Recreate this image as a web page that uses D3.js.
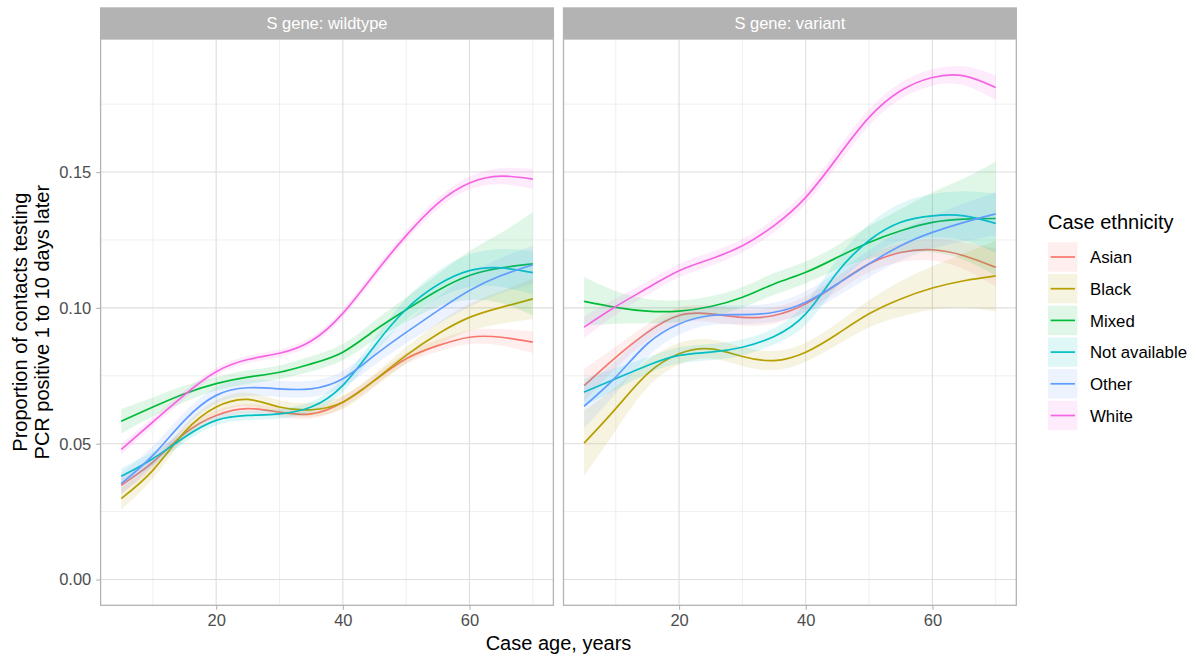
<!DOCTYPE html>
<html>
<head>
<meta charset="utf-8">
<title>Contacts testing positive by case age</title>
<script src="https://cdn.jsdelivr.net/npm/d3@7"></script>
<style>
  body { margin: 0; background: #fff; }
  text { font-family: "Liberation Sans", Arial, Helvetica, sans-serif; }
</style>
</head>
<body>
<svg id="chart" width="1196" height="661"></svg>
<script>
// DATA
var ethnicities = ["Asian", "Black", "Mixed", "Not available", "Other", "White"];
var colours = ["#F8766D", "#B79F00", "#00BA38", "#00BFC4", "#619CFF", "#F564E3"];
var ages = [5, 10, 15, 20, 25, 30, 35, 40, 45, 50, 55, 60, 65, 70];
var panels = ["S gene: wildtype", "S gene: variant"];

// fitted proportions, one row per ethnicity (same order as above)
var wildtypeFit = [
  [0.0347, 0.0432, 0.0537, 0.0604, 0.0629, 0.0616, 0.0610, 0.0653, 0.0733, 0.0813, 0.0861, 0.0892, 0.0892, 0.0874],
  [0.0298, 0.0402, 0.0543, 0.0635, 0.0663, 0.0635, 0.0625, 0.0653, 0.0733, 0.0825, 0.0904, 0.0965, 0.1002, 0.1033],
  [0.0583, 0.0635, 0.0684, 0.0721, 0.0745, 0.0763, 0.0794, 0.0837, 0.0917, 0.0993, 0.1064, 0.1119, 0.1147, 0.1162],
  [0.0380, 0.0445, 0.0524, 0.0586, 0.0604, 0.0610, 0.0635, 0.0715, 0.0860, 0.0995, 0.1085, 0.1137, 0.1147, 0.1130],
  [0.0353, 0.0457, 0.0586, 0.0678, 0.0706, 0.0702, 0.0702, 0.0739, 0.0825, 0.0910, 0.0990, 0.1064, 0.1119, 0.1159],
  [0.0479, 0.0580, 0.0680, 0.0765, 0.0810, 0.0833, 0.0878, 0.0980, 0.1125, 0.1266, 0.1385, 0.1460, 0.1485, 0.1474]
];
var variantFit = [
  [0.0714, 0.0818, 0.0910, 0.0972, 0.0978, 0.0965, 0.0972, 0.1015, 0.1088, 0.1162, 0.1204, 0.1214, 0.1192, 0.1149],
  [0.0502, 0.0629, 0.0757, 0.0831, 0.0849, 0.0821, 0.0806, 0.0837, 0.0904, 0.0978, 0.1033, 0.1073, 0.1100, 0.1118],
  [0.1024, 0.1002, 0.0988, 0.0988, 0.1005, 0.1039, 0.1088, 0.1131, 0.1186, 0.1241, 0.1284, 0.1315, 0.1327, 0.1329],
  [0.0690, 0.0739, 0.0788, 0.0825, 0.0837, 0.0855, 0.0895, 0.0978, 0.1131, 0.1248, 0.1315, 0.1339, 0.1339, 0.1311],
  [0.0638, 0.0745, 0.0868, 0.0941, 0.0972, 0.0975, 0.0984, 0.1021, 0.1088, 0.1162, 0.1229, 0.1278, 0.1315, 0.1346],
  [0.0929, 0.1005, 0.1073, 0.1137, 0.1180, 0.1229, 0.1303, 0.1407, 0.1554, 0.1701, 0.1799, 0.1848, 0.1854, 0.1811]
];

// half width of the confidence band
var wildtypeBand = [
  [0.0030, 0.0025, 0.0020, 0.0018, 0.0017, 0.0017, 0.0018, 0.0020, 0.0020, 0.0020, 0.0022, 0.0025, 0.0030, 0.0040],
  [0.0040, 0.0030, 0.0025, 0.0025, 0.0025, 0.0025, 0.0025, 0.0025, 0.0025, 0.0030, 0.0040, 0.0050, 0.0060, 0.0075],
  [0.0045, 0.0035, 0.0030, 0.0025, 0.0025, 0.0025, 0.0028, 0.0030, 0.0035, 0.0045, 0.0060, 0.0090, 0.0130, 0.0190],
  [0.0030, 0.0025, 0.0020, 0.0018, 0.0018, 0.0018, 0.0020, 0.0025, 0.0030, 0.0040, 0.0050, 0.0060, 0.0070, 0.0080],
  [0.0040, 0.0035, 0.0030, 0.0030, 0.0030, 0.0030, 0.0030, 0.0030, 0.0035, 0.0040, 0.0050, 0.0060, 0.0065, 0.0070],
  [0.0020, 0.0017, 0.0015, 0.0014, 0.0014, 0.0014, 0.0015, 0.0016, 0.0017, 0.0018, 0.0020, 0.0024, 0.0030, 0.0036]
];
var variantBand = [
  [0.0060, 0.0040, 0.0030, 0.0030, 0.0030, 0.0030, 0.0030, 0.0028, 0.0028, 0.0030, 0.0035, 0.0040, 0.0050, 0.0070],
  [0.0120, 0.0080, 0.0050, 0.0040, 0.0035, 0.0035, 0.0035, 0.0035, 0.0040, 0.0050, 0.0065, 0.0080, 0.0100, 0.0130],
  [0.0090, 0.0060, 0.0045, 0.0040, 0.0038, 0.0038, 0.0040, 0.0040, 0.0045, 0.0060, 0.0080, 0.0110, 0.0150, 0.0210],
  [0.0050, 0.0040, 0.0030, 0.0030, 0.0030, 0.0030, 0.0030, 0.0040, 0.0050, 0.0060, 0.0070, 0.0080, 0.0090, 0.0110],
  [0.0080, 0.0060, 0.0050, 0.0040, 0.0035, 0.0035, 0.0035, 0.0040, 0.0045, 0.0050, 0.0055, 0.0060, 0.0070, 0.0080],
  [0.0040, 0.0030, 0.0025, 0.0025, 0.0025, 0.0025, 0.0025, 0.0025, 0.0030, 0.0030, 0.0030, 0.0030, 0.0035, 0.0045]
];

var yTicks = [0, 0.05, 0.10, 0.15];
var yMinor = [0.025, 0.075, 0.125, 0.175];
var xTicks = [20, 40, 60];
var xMinor = [10, 30, 50, 70];

// LAYOUT
var svg = d3.select("#chart");
var panelTop = 39, panelBottom = 605.3;
var panelLeft = [100.6, 563.5], panelW = 452.8;

// ggplot style 5% expansion
var yLo = 0, yHi = 0.1895, yPad = (yHi - yLo) * 0.05;
var y = d3.scaleLinear().domain([yLo - yPad, yHi + yPad]).range([panelBottom, panelTop]);
var xPad = (70 - 5) * 0.05;

var fits = [wildtypeFit, variantFit];
var bands = [wildtypeBand, variantBand];

panels.forEach(function(title, p) {
  var x = d3.scaleLinear().domain([5 - xPad, 70 + xPad]).range([panelLeft[p], panelLeft[p] + panelW]);
  var g = svg.append("g");

  // grid
  g.selectAll(".ymin").data(yMinor).enter().append("line")
    .attr("x1", x.range()[0]).attr("x2", x.range()[1])
    .attr("y1", function(d) { return y(d); }).attr("y2", function(d) { return y(d); })
    .attr("stroke", "#e4e4e4").attr("stroke-width", 0.6);
  g.selectAll(".xmin").data(xMinor).enter().append("line")
    .attr("y1", panelTop).attr("y2", panelBottom)
    .attr("x1", function(d) { return x(d); }).attr("x2", function(d) { return x(d); })
    .attr("stroke", "#e4e4e4").attr("stroke-width", 0.6);
  g.selectAll(".ymaj").data(yTicks).enter().append("line")
    .attr("x1", x.range()[0]).attr("x2", x.range()[1])
    .attr("y1", function(d) { return y(d); }).attr("y2", function(d) { return y(d); })
    .attr("stroke", "#dedede").attr("stroke-width", 1.1);
  g.selectAll(".xmaj").data(xTicks).enter().append("line")
    .attr("y1", panelTop).attr("y2", panelBottom)
    .attr("x1", function(d) { return x(d); }).attr("x2", function(d) { return x(d); })
    .attr("stroke", "#dedede").attr("stroke-width", 1.1);

  // smooths: ribbon then line for each group
  var area = d3.area().curve(d3.curveNatural)
    .x(function(d) { return x(d.age); })
    .y0(function(d) { return y(d.v - d.se); })
    .y1(function(d) { return y(d.v + d.se); });
  var line = d3.line().curve(d3.curveNatural)
    .x(function(d) { return x(d.age); })
    .y(function(d) { return y(d.v); });

  ethnicities.forEach(function(eth, i) {
    var pts = ages.map(function(a, k) {
      return { age: a, v: fits[p][i][k], se: bands[p][i][k] };
    });
    g.append("path").datum(pts).attr("d", area)
      .attr("fill", colours[i]).attr("fill-opacity", 0.12);
    g.append("path").datum(pts).attr("d", line)
      .attr("fill", "none").attr("stroke", colours[i]).attr("stroke-width", 1.7);
  });

  // border
  g.append("rect").attr("x", x.range()[0]).attr("y", panelTop)
    .attr("width", panelW).attr("height", panelBottom - panelTop)
    .attr("fill", "none").attr("stroke", "#b3b3b3").attr("stroke-width", 1.3);

  // strip
  g.append("rect").attr("x", x.range()[0] - 0.65).attr("y", 7.3)
    .attr("width", panelW + 1.3).attr("height", panelTop - 7.3)
    .attr("fill", "#b3b3b3");
  g.append("text").attr("x", x.range()[0] + panelW / 2).attr("y", 28.8)
    .attr("text-anchor", "middle").attr("fill", "#ffffff")
    .attr("font-size", "16.5px").text(title);

  // x axis
  var xAxis = d3.axisBottom(x).tickValues(xTicks).tickSize(3.7).tickPadding(5);
  var xa = g.append("g").attr("transform", "translate(0," + (panelBottom + 0.65) + ")").call(xAxis);
  xa.select(".domain").remove();
  xa.selectAll("line").attr("stroke", "#b3b3b3").attr("stroke-width", 1.1);
  xa.selectAll("text").attr("fill", "#4d4d4d").attr("font-size", "16.5px")
    .attr("font-family", "Liberation Sans, Arial, sans-serif");

  if (p === 0) {
    var yAxis = d3.axisLeft(y).tickValues(yTicks).tickSize(3.7).tickPadding(5)
      .tickFormat(d3.format(".2f"));
    var ya = g.append("g").attr("transform", "translate(" + (x.range()[0] - 0.65) + ",0)").call(yAxis);
    ya.select(".domain").remove();
    ya.selectAll("line").attr("stroke", "#b3b3b3").attr("stroke-width", 1.1);
    ya.selectAll("text").attr("fill", "#4d4d4d").attr("font-size", "16.5px")
      .attr("font-family", "Liberation Sans, Arial, sans-serif");
  }
});

// axis titles
svg.append("text").attr("x", 558.5).attr("y", 650).attr("text-anchor", "middle")
  .attr("font-size", "20px").attr("fill", "#000").text("Case age, years");

var yTitle = svg.append("text").attr("transform", "translate(27," + ((panelTop + panelBottom) / 2) + ") rotate(-90)")
  .attr("text-anchor", "middle").attr("font-size", "20px").attr("fill", "#000");
yTitle.append("tspan").attr("x", 0).attr("y", 0).text("Proportion of contacts testing");
yTitle.append("tspan").attr("x", 0).attr("y", 21.5).text("PCR positive 1 to 10 days later");

// legend
var legend = svg.append("g").attr("transform", "translate(1048,0)");
legend.append("text").attr("x", 0).attr("y", 228.5).attr("font-size", "20px")
  .attr("fill", "#000").text("Case ethnicity");
var keys = legend.selectAll(".key").data(ethnicities).enter().append("g")
  .attr("transform", function(d, i) { return "translate(0," + (242.3 + i * 31.7) + ")"; });
keys.append("rect").attr("width", 29.4).attr("height", 29.4)
  .attr("fill", function(d, i) { return colours[i]; }).attr("fill-opacity", 0.12);
keys.append("line").attr("x1", 2.6).attr("x2", 27).attr("y1", 14.7).attr("y2", 14.7)
  .attr("stroke", function(d, i) { return colours[i]; }).attr("stroke-width", 1.7);
keys.append("text").attr("x", 42).attr("y", 21).attr("font-size", "16.8px")
  .attr("fill", "#000").text(function(d) { return d; });
</script>
</body>
</html>
